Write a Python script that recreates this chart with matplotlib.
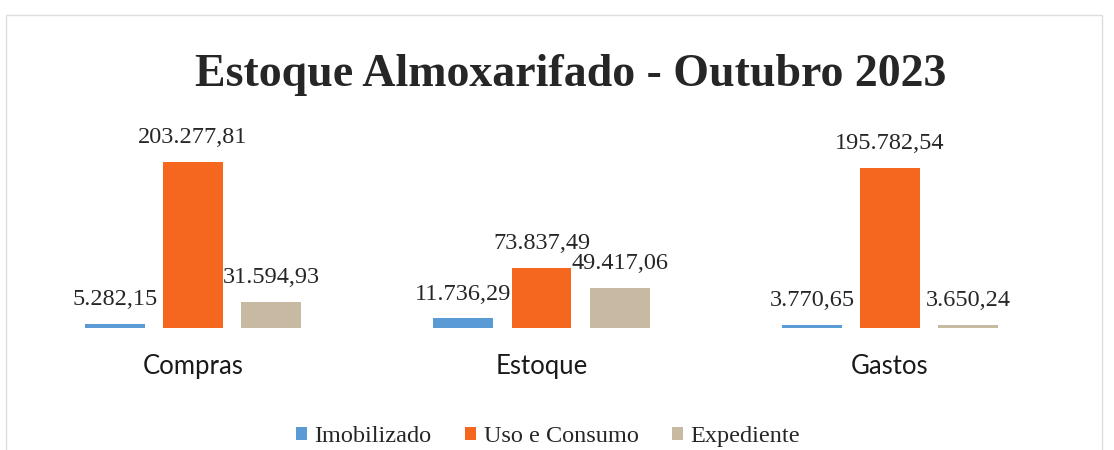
import numpy as np
import matplotlib
matplotlib.use("Agg")
import matplotlib.pyplot as plt
from matplotlib.patches import Rectangle

# dados do gráfico
categorias = ["Compras", "Estoque", "Gastos"]
imobilizado = [5282.15, 11736.29, 3770.65]
uso_consumo = [203277.81, 73837.49, 195782.54]
expediente = [31594.93, 49417.06, 3650.24]
series = ["Imobilizado", "Uso e Consumo", "Expediente"]
cores = ["#5B9BD5", "#F5661F", "#C8B9A3"]


def fmt_br(v):
    s = f"{v:,.2f}"
    return s.replace(",", "X").replace(".", ",").replace("X", ".")


fig = plt.figure(figsize=(11.14, 4.5), dpi=100)
ax = fig.add_axes([0, 0.271, 1, 0.5])

x = np.arange(len(categorias))
largura = 0.172
passo = 0.224

for i, (nome, vals, cor) in enumerate(zip(series, [imobilizado, uso_consumo, expediente], cores)):
    pos = x + (i - 1) * passo
    barras = ax.bar(pos, vals, largura, color=cor, label=nome)
    for b, v in zip(barras, vals):
        ax.annotate(fmt_br(v), (b.get_x() + b.get_width() / 2, v),
                    xytext=(0, 10), textcoords="offset points",
                    ha="center", va="bottom", fontsize=17.5,
                    family="Liberation Serif", color="#262626")

ax.set_xlim(-0.554, 2.643)
ax.set_ylim(0, 275500)
ax.set_yticks([])
ax.set_xticks(x)
ax.set_xticklabels(categorias, fontsize=18.5, family="Lato", color="#1a1a1a")
ax.tick_params(axis="x", length=0, pad=19)
for s in ax.spines.values():
    s.set_visible(False)
ax.patch.set_alpha(0)

fig.text(0.512, 0.833, "Estoque Almoxarifado - Outubro 2023", ha="center", va="center",
         fontsize=33, fontweight="bold", family="Liberation Serif", color="#262626")

leg = fig.legend(loc="center", bbox_to_anchor=(0.492, 0.029), ncol=3, frameon=False,
                 prop={"family": "Liberation Serif", "size": 17.5},
                 handlelength=0.45, handleheight=0.45, handletextpad=0.3, columnspacing=1.4)
for t in leg.get_texts():
    t.set_color("#262626")

fig.patches.append(Rectangle((0.005, -0.01), 0.984, 0.976, transform=fig.transFigure,
                             fill=False, edgecolor="#dddddd", linewidth=1))

fig.savefig("out.png", dpi=100)
